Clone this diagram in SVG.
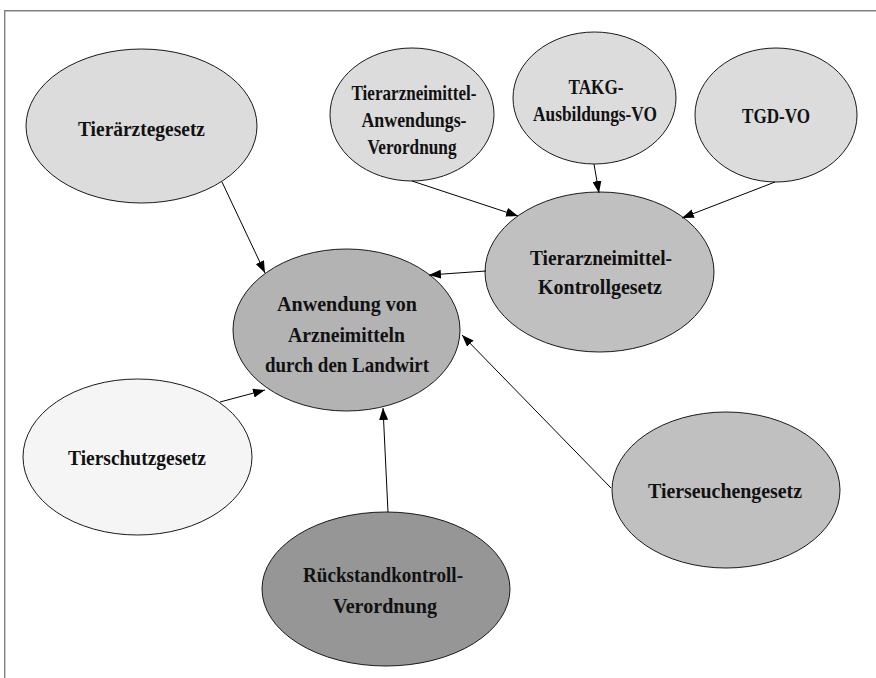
<svg xmlns="http://www.w3.org/2000/svg" width="876" height="678" viewBox="0 0 876 678">
<defs>
<marker id="ah" markerUnits="userSpaceOnUse" markerWidth="13" markerHeight="9" refX="12" refY="4.5" orient="auto">
<path d="M0,0 L12,4.5 L0,9 z" fill="#000"/>
</marker>
</defs>
<style>
.n{stroke:#1a1a1a;stroke-width:1}
.t{font-weight:bold;font-size:22px;fill:#111;text-anchor:middle}
.c line{stroke:#000;stroke-width:1;marker-end:url(#ah)}
.f{stroke:#808080;stroke-width:1.4;fill:none}
</style>
<rect width="876" height="678" fill="#fff"/>
<path class="f" d="M4.7,678 L4.7,10.7 L876,10.7"/>
<g font-family="'Liberation Serif', 'Times New Roman', serif">
<g id="tieraerztegesetz">
<ellipse class="n" cx="141.5" cy="126" rx="115.5" ry="77" fill="#dcdcdc"/>
<text class="t" x="141.5" y="136" textLength="127" lengthAdjust="spacingAndGlyphs">Tierärztegesetz</text>
</g>
<g id="tam-anwendungs-vo">
<ellipse class="n" cx="412" cy="114.5" rx="82" ry="66.5" fill="#dcdcdc"/>
<text class="t" x="414" y="100" textLength="125" lengthAdjust="spacingAndGlyphs">Tierarzneimittel-</text>
<text class="t" x="414" y="127" textLength="105" lengthAdjust="spacingAndGlyphs">Anwendungs-</text>
<text class="t" x="412" y="154" textLength="89" lengthAdjust="spacingAndGlyphs">Verordnung</text>
</g>
<g id="takg-ausbildungs-vo">
<ellipse class="n" cx="594.5" cy="98" rx="81.5" ry="66" fill="#dcdcdc"/>
<text class="t" x="596" y="94" textLength="55" lengthAdjust="spacingAndGlyphs">TAKG-</text>
<text class="t" x="595" y="121" textLength="124" lengthAdjust="spacingAndGlyphs">Ausbildungs-VO</text>
</g>
<g id="tgd-vo">
<ellipse class="n" cx="776" cy="115" rx="81" ry="67" fill="#dcdcdc"/>
<text class="t" x="776" y="123" textLength="68" lengthAdjust="spacingAndGlyphs">TGD-VO</text>
</g>
<g id="tam-kontrollgesetz">
<ellipse class="n" cx="599.5" cy="272" rx="114.5" ry="80" fill="#c0c0c0"/>
<text class="t" x="601" y="265" textLength="142" lengthAdjust="spacingAndGlyphs">Tierarzneimittel-</text>
<text class="t" x="600" y="294" textLength="124" lengthAdjust="spacingAndGlyphs">Kontrollgesetz</text>
</g>
<g id="anwendung">
<ellipse class="n" cx="346.5" cy="330" rx="113.5" ry="81" fill="#b3b3b3"/>
<text class="t" x="347" y="311" textLength="140" lengthAdjust="spacingAndGlyphs">Anwendung von</text>
<text class="t" x="346.5" y="342" textLength="117" lengthAdjust="spacingAndGlyphs">Arzneimitteln</text>
<text class="t" x="347" y="372" textLength="164" lengthAdjust="spacingAndGlyphs">durch den Landwirt</text>
</g>
<g id="tierschutzgesetz">
<ellipse class="n" cx="137.5" cy="457" rx="114.5" ry="78" fill="#f5f5f5"/>
<text class="t" x="137" y="465" textLength="138" lengthAdjust="spacingAndGlyphs">Tierschutzgesetz</text>
</g>
<g id="rueckstandkontroll-vo">
<ellipse class="n" cx="386" cy="589" rx="124" ry="77" fill="#969696"/>
<text class="t" x="383" y="582" textLength="160" lengthAdjust="spacingAndGlyphs">Rückstandkontroll-</text>
<text class="t" x="385" y="613" textLength="104" lengthAdjust="spacingAndGlyphs">Verordnung</text>
</g>
<g id="tierseuchengesetz">
<ellipse class="n" cx="726" cy="490" rx="114" ry="78" fill="#c0c0c0"/>
<text class="t" x="725" y="498" textLength="154" lengthAdjust="spacingAndGlyphs">Tierseuchengesetz</text>
</g>
</g>
<g id="connectors" class="c">
<line x1="222" y1="182" x2="265" y2="273"/>
<line x1="412" y1="181" x2="518" y2="216"/>
<line x1="594" y1="164" x2="599" y2="193"/>
<line x1="775" y1="182" x2="682" y2="218"/>
<line x1="486" y1="271" x2="429" y2="275"/>
<line x1="611" y1="488" x2="462" y2="335"/>
<line x1="220" y1="402" x2="265" y2="390"/>
<line x1="388" y1="512" x2="383" y2="408"/>
</g>
</svg>
